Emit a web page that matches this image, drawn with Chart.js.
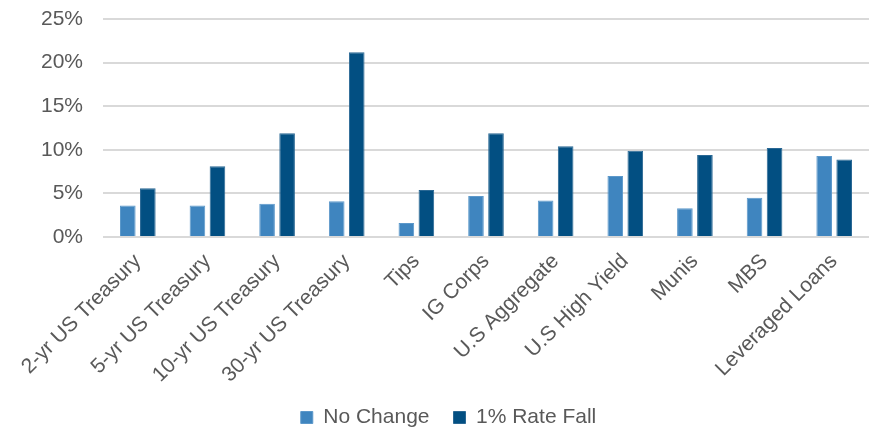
<!DOCTYPE html>
<html>
<head>
<meta charset="utf-8">
<script src="https://cdn.jsdelivr.net/npm/chart.js@4"></script>
<style>
  html, body { margin: 0; padding: 0; background: #ffffff; }
  #wrap { width: 871px; height: 431px; }
</style>
</head>
<body>
<div id="wrap"><canvas id="c" width="871" height="431"></canvas></div>
<script>
// Asset classes shown along the x axis
const categories = [
  '2-yr US Treasury', '5-yr US Treasury', '10-yr US Treasury', '30-yr US Treasury',
  'Tips', 'IG Corps', 'U.S Aggregate', 'U.S High Yield', 'Munis', 'MBS', 'Leveraged Loans'
];
// Total return (%) under each rate scenario
const noChange     = [3.6, 3.6, 3.8, 4.1, 1.6, 4.7, 4.2, 7.0, 3.3, 4.5, 9.3];
const rateFall1pct = [5.6, 8.1, 11.9, 21.2, 5.4, 11.9, 10.4, 9.9, 9.4, 10.2, 8.9];
// Y axis range and step (percent)
const yTicks = { min: 0, max: 25, step: 5 };

const FONT = "'Liberation Sans', Arial, sans-serif";
const TEXT = '#595959';
const SIZE = 21;

new Chart(document.getElementById('c'), {
  type: 'bar',
  data: {
    labels: categories,
    datasets: [
      { label: 'No Change', data: noChange, backgroundColor: '#3F85BF',
        borderColor: '#5C98CA', borderWidth: 1,
        categoryPercentage: 0.575, barPercentage: 0.78 },
      { label: '1% Rate Fall', data: rateFall1pct, backgroundColor: '#024F82',
        borderColor: '#2A6894', borderWidth: 1,
        categoryPercentage: 0.575, barPercentage: 0.78 }
    ]
  },
  options: {
    responsive: false,
    animation: false,
    layout: { padding: { top: 19, left: 28, right: 2, bottom: -7 } },
    plugins: {
      tooltip: { enabled: false },
      legend: {
        position: 'bottom',
        labels: {
          color: TEXT,
          font: { family: FONT, size: SIZE },
          boxWidth: 12, boxHeight: 12,
          padding: 24,
          useBorderRadius: false
        }
      }
    },
    scales: {
      x: {
        grid: { display: false },
        border: { display: false },
        ticks: {
          color: TEXT,
          font: { family: FONT, size: SIZE },
          minRotation: 45, maxRotation: 45,
          padding: 4,
          autoSkip: false
        },
        afterFit: (s) => { s.height = 146; s.paddingLeft = 0; s.paddingRight = 0; }
      },
      y: {
        min: yTicks.min, max: yTicks.max,
        border: { display: false },
        grid: { color: '#D9D9D9', lineWidth: 2, drawTicks: false },
        ticks: {
          stepSize: yTicks.step,
          color: TEXT,
          font: { family: FONT, size: SIZE },
          padding: 20,
          callback: (v) => v + '%'
        },
        afterFit: (s) => { s.width = 75; s.paddingTop = 0; s.paddingBottom = 0; }
      }
    }
  }
});
</script>
</body>
</html>
